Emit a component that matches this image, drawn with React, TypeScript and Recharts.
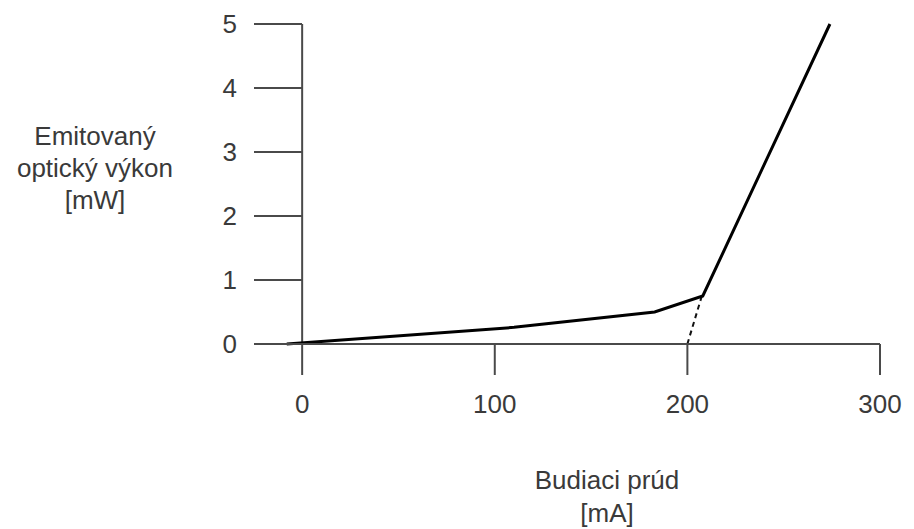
import { LineChart, Line, XAxis, YAxis, ReferenceLine } from 'recharts';

// L-I characteristic of a laser diode: current [mA] vs. emitted optical power [mW]
const currentMa = [-8, 110, 183, 208, 274];
const powerMw = [0, 0.26, 0.5, 0.75, 5];

// extrapolated threshold segment (dashed)
const thresholdCurrent = [200, 207.5];
const thresholdPower = [0, 0.75];

const xTicks = [0, 100, 200, 300];
const yTicks = [0, 1, 2, 3, 4, 5];

const curve = currentMa.map((c, i) => ({ current: c, power: powerMw[i] }));
const threshold = thresholdCurrent.map((c, i) => ({ current: c, power: thresholdPower[i] }));

const axisColor = '#4a4a4a';
const textColor = '#3a3a3a';
const font = '"Liberation Sans", Arial, sans-serif';

export default function App() {
  return (
    <div style={{ position: 'absolute', left: 0, top: 0, width: 914, height: 529, background: '#fff', fontFamily: font }}>
      {/* mirrored y axis takes no width, so the left margin sets the plot edge */}
      <LineChart width={914} height={529} margin={{ top: 24, right: 34, bottom: 125, left: 254 }}>
        <XAxis
          type="number"
          dataKey="current"
          domain={[-25, 300]}
          ticks={xTicks}
          tickSize={31}
          tickMargin={20}
          height={60}
          stroke={axisColor}
          strokeWidth={2}
          tick={{ fontSize: 26, fill: textColor, fontFamily: font }}
          allowDataOverflow
        />
        <YAxis
          type="number"
          dataKey="power"
          domain={[0, 5]}
          ticks={yTicks}
          mirror
          axisLine={false}
          tickSize={48}
          tickMargin={0}
          stroke={axisColor}
          strokeWidth={2}
          tick={{ fontSize: 26, fill: textColor, fontFamily: font, textAnchor: 'end', dx: -65 }}
        />
        <ReferenceLine x={0} stroke={axisColor} strokeWidth={2} />
        <Line
          data={threshold}
          dataKey="power"
          type="linear"
          stroke="#111"
          strokeWidth={2}
          strokeDasharray="5 4"
          dot={false}
          isAnimationActive={false}
        />
        <Line
          data={curve}
          dataKey="power"
          type="linear"
          stroke="#000"
          strokeWidth={3}
          dot={false}
          isAnimationActive={false}
        />
      </LineChart>
      <div style={{ position: 'absolute', left: 0, top: 120, width: 190, textAlign: 'center', fontSize: 26, lineHeight: '32px', color: textColor }}>
        Emitovaný
        <br />
        optický výkon
        <br />
        [mW]
      </div>
      <div style={{ position: 'absolute', left: 507, top: 464, width: 200, textAlign: 'center', fontSize: 26, lineHeight: '33px', color: textColor }}>
        Budiaci prúd
        <br />
        [mA]
      </div>
    </div>
  );
}
